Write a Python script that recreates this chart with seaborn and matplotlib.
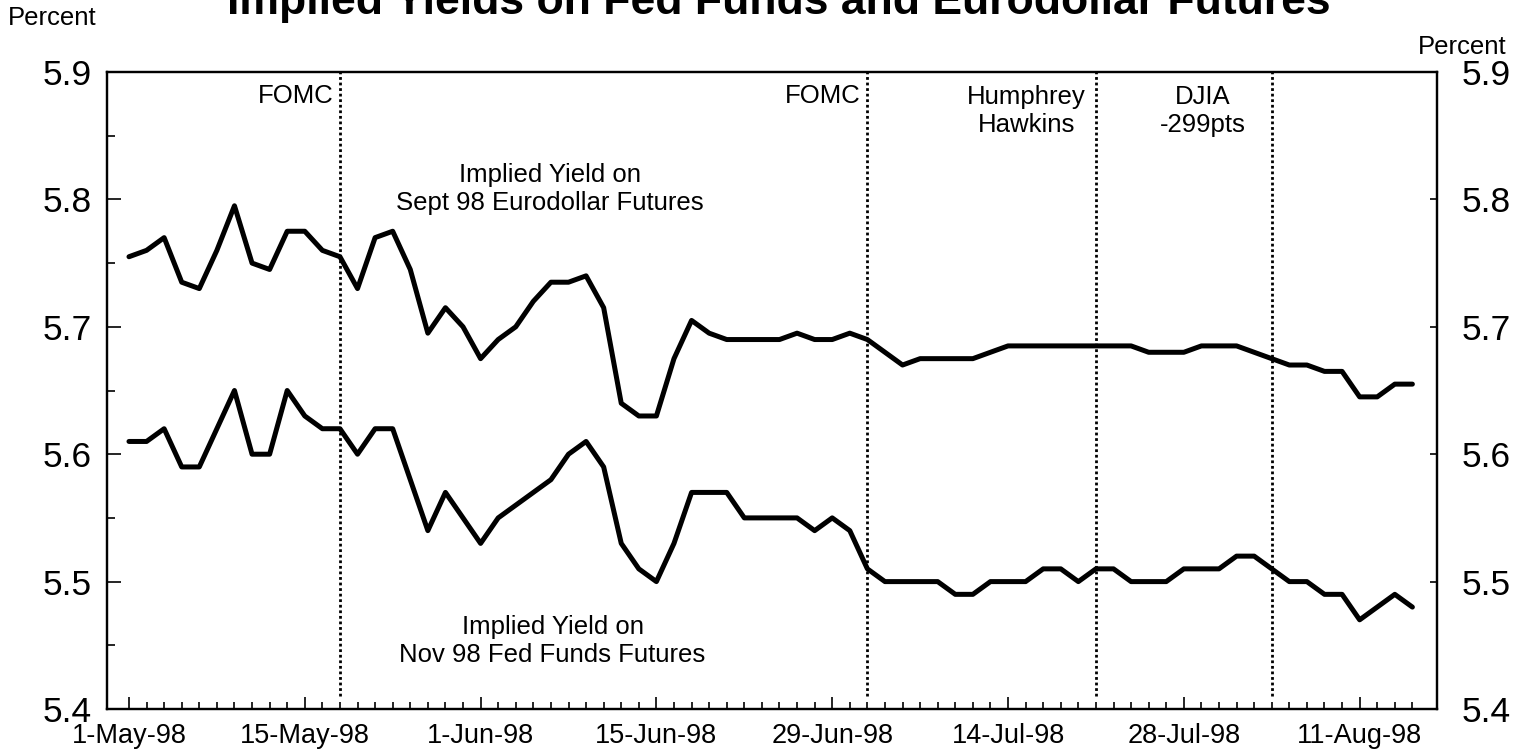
import numpy as np
import pandas as pd
import matplotlib
matplotlib.use('Agg')
import matplotlib.pyplot as plt
import seaborn as sns

# dias habiles del grafico (sin Memorial Day ni el 3 de julio)
fechas = pd.bdate_range('1998-05-01', '1998-08-14', freq='C',
                        holidays=['1998-05-25', '1998-07-03'])

# rendimiento implicito, futuros Eurodollar Sept 98
eurodollar = [5.755, 5.76, 5.77, 5.735, 5.73, 5.76, 5.795, 5.75, 5.745, 5.775,
              5.775, 5.76, 5.755, 5.73, 5.77, 5.775, 5.745, 5.695, 5.715, 5.70,
              5.675, 5.69, 5.70, 5.72, 5.735, 5.735, 5.74, 5.715, 5.64, 5.63,
              5.63, 5.675, 5.705, 5.695, 5.69, 5.69, 5.69, 5.69, 5.695, 5.69,
              5.69, 5.695, 5.69, 5.68, 5.67, 5.675, 5.675, 5.675, 5.675, 5.68,
              5.685, 5.685, 5.685, 5.685, 5.685, 5.685, 5.685, 5.685, 5.68, 5.68,
              5.68, 5.685, 5.685, 5.685, 5.68, 5.675, 5.67, 5.67, 5.665, 5.665,
              5.645, 5.645, 5.655, 5.655]

# rendimiento implicito, futuros Fed Funds Nov 98
fed_funds = [5.61, 5.61, 5.62, 5.59, 5.59, 5.62, 5.65, 5.60, 5.60, 5.65,
             5.63, 5.62, 5.62, 5.60, 5.62, 5.62, 5.58, 5.54, 5.57, 5.55,
             5.53, 5.55, 5.56, 5.57, 5.58, 5.60, 5.61, 5.59, 5.53, 5.51,
             5.50, 5.53, 5.57, 5.57, 5.57, 5.55, 5.55, 5.55, 5.55, 5.54,
             5.55, 5.54, 5.51, 5.50, 5.50, 5.50, 5.50, 5.49, 5.49, 5.50,
             5.50, 5.50, 5.51, 5.51, 5.50, 5.51, 5.51, 5.50, 5.50, 5.50,
             5.51, 5.51, 5.51, 5.52, 5.52, 5.51, 5.50, 5.50, 5.49, 5.49,
             5.47, 5.48, 5.49, 5.48]

tick_fechas = ['1998-05-01', '1998-05-15', '1998-06-01', '1998-06-15',
               '1998-06-29', '1998-07-14', '1998-07-28', '1998-08-11']
tick_labels = ['1-May-98', '15-May-98', '1-Jun-98', '15-Jun-98',
               '29-Jun-98', '14-Jul-98', '28-Jul-98', '11-Aug-98']

eventos = ['FOMC', 'FOMC', 'Humphrey\nHawkins', 'DJIA\n-299pts']
evento_fechas = ['1998-05-19', '1998-07-01', '1998-07-21', '1998-08-04']

y_ticks = [5.4, 5.5, 5.6, 5.7, 5.8, 5.9]
y_labels = ['5.4', '5.5', '5.6', '5.7', '5.8', '5.9']

pos = np.arange(len(fechas))
df = pd.DataFrame({
    'pos': np.concatenate([pos, pos]),
    'rendimiento': eurodollar + fed_funds,
    'serie': ['eurodollar'] * len(pos) + ['fed_funds'] * len(pos),
})
tick_pos = fechas.get_indexer(pd.to_datetime(tick_fechas))
evento_pos = fechas.get_indexer(pd.to_datetime(evento_fechas))

sns.set_theme(style='ticks')
plt.rcParams['font.family'] = ['Liberation Sans', 'DejaVu Sans']
plt.rcParams.update({'text.color': 'black', 'axes.labelcolor': 'black',
                     'xtick.color': 'black', 'ytick.color': 'black',
                     'axes.edgecolor': 'black'})

W, H = 1518, 756
fig = plt.figure(figsize=(W / 100, H / 100), dpi=100)
ax = fig.add_axes([107 / W, 1 - 709 / H, (1437 - 107) / W, (709 - 72) / H])

sns.lineplot(data=df, x='pos', y='rendimiento', hue='serie',
             palette={'eurodollar': 'black', 'fed_funds': 'black'},
             linewidth=3.6, legend=False, ax=ax)

ax.set_xlim(-1.25, 74.4)
ax.set_ylim(5.4, 5.9)
ax.set_xlabel('')
ax.set_ylabel('')

# eje x: marca larga en cada etiqueta, corta en cada dia habil
ax.set_xticks(tick_pos)
ax.set_xticklabels(tick_labels, fontsize=19.5)
ax.set_xticks(pos, minor=True)
ax.tick_params(axis='x', which='major', direction='in', length=9, width=1.2,
               pad=10)
ax.tick_params(axis='x', which='minor', direction='in', length=5, width=1.2)

ax.set_yticks(y_ticks)
ax.set_yticklabels(y_labels, fontsize=25.5)
ax.set_yticks(np.arange(5.4, 5.91, 0.05), minor=True)
ax.tick_params(axis='y', which='major', direction='in', length=10, width=1.2,
               pad=11)
ax.tick_params(axis='y', which='minor', direction='in', length=5.5, width=1.2)

ax2 = ax.twinx()
ax2.set_ylim(5.4, 5.9)
ax2.set_yticks(y_ticks)
ax2.set_yticklabels(y_labels, fontsize=25.5)
ax2.tick_params(axis='y', direction='in', length=5, width=1.2, pad=18)

for a in (ax, ax2):
    for s in a.spines.values():
        s.set_linewidth(1.6)
        s.set_color('black')

# lineas punteadas de eventos; el texto queda a la izquierda de cada linea
gap_px = [6, 7, 10, 26]
for txt, p, g in zip(eventos, evento_pos, gap_px):
    ax.axvline(p, ymin=0.02, ymax=1, color='black', lw=2.0, ls=(0, (1, 1)))
    n_lineas = txt.count('\n')
    ax.annotate(txt, xy=(p, 1), xycoords=('data', 'axes fraction'),
                xytext=(-g * 0.72, -(31 + 29 * n_lineas) * 0.72),
                textcoords='offset points', ha='right', va='baseline',
                multialignment='center', fontsize=18.5)

ax.text(0.333, 0.783, 'Implied Yield on\nSept 98 Eurodollar Futures',
        transform=ax.transAxes, ha='center', va='baseline',
        multialignment='center', fontsize=18.5)
ax.text(0.335, 0.074, 'Implied Yield on\nNov 98 Fed Funds Futures',
        transform=ax.transAxes, ha='center', va='baseline',
        multialignment='center', fontsize=18.5)

fig.text(8 / W, 1 - 18 / H, 'Percent', ha='left', va='center', fontsize=18.5)
fig.text(1506 / W, 1 - 47 / H, 'Percent', ha='right', va='center', fontsize=18.5)
fig.text(779 / W, 1 - 14 / H, 'Implied Yields on Fed Funds and Eurodollar Futures',
         ha='center', va='baseline', fontsize=32, fontweight='bold')

fig.savefig('out.png', dpi=100)
